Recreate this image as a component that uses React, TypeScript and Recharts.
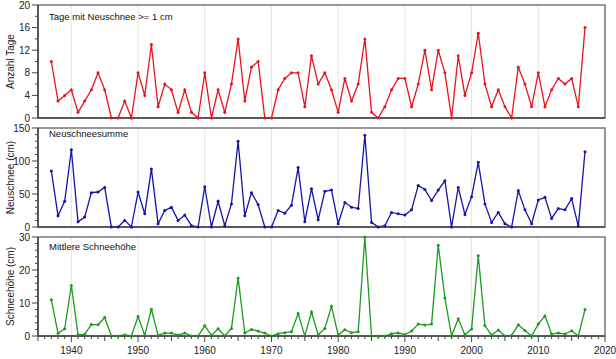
import React from 'react';
import { LineChart, Line, XAxis, YAxis, CartesianGrid, ReferenceArea } from 'recharts';

const years = [
  1937, 1938, 1939, 1940, 1941, 1942, 1943, 1944, 1945, 1946,
  1947, 1948, 1949, 1950, 1951, 1952, 1953, 1954, 1955, 1956,
  1957, 1958, 1959, 1960, 1961, 1962, 1963, 1964, 1965, 1966,
  1967, 1968, 1969, 1970, 1971, 1972, 1973, 1974, 1975, 1976,
  1977, 1978, 1979, 1980, 1981, 1982, 1983, 1984, 1985, 1986,
  1987, 1988, 1989, 1990, 1991, 1992, 1993, 1994, 1995, 1996,
  1997, 1998, 1999, 2000, 2001, 2002, 2003, 2004, 2005, 2006,
  2007, 2008, 2009, 2010, 2011, 2012, 2013, 2014, 2015, 2016,
  2017,
];

// Tage mit Neuschnee >= 1 cm
const tage = [
  10, 3, 4, 5, 1, 3, 5, 8, 5, 0,
  0, 3, 0, 8, 4, 13, 2, 6, 5, 1,
  5, 1, 0, 8, 0, 5, 1, 6, 14, 3,
  9, 10, 0, 0, 5, 7, 8, 8, 2, 11,
  6, 8, 5, 1, 7, 3, 6, 14, 1, 0,
  2, 5, 7, 7, 2, 6, 12, 5, 12, 8,
  0, 11, 4, 8, 15, 6, 2, 5, 2, 0,
  9, 6, 2, 8, 2, 5, 7, 6, 7, 2,
  16,
];

// Neuschneesumme (cm)
const neuschnee = [
  85, 17, 39, 117, 8, 15, 52, 53, 60, 0,
  0, 10, 0, 53, 20, 88, 5, 25, 30, 10,
  18, 2, 0, 61, 0, 39, 2, 35, 130, 17,
  52, 34, 0, 0, 25, 21, 33, 90, 8, 58,
  11, 54, 56, 5, 37, 30, 28, 139, 7, 0,
  2, 22, 20, 18, 26, 63, 57, 40, 56, 70,
  0, 60, 19, 46, 98, 35, 7, 22, 5, 0,
  55, 26, 5, 41, 45, 13, 28, 26, 43, 1,
  114,
];

// Mittlere Schneehöhe (cm)
const hoehe = [
  11, 0.8, 2.2, 15.3, 0.4, 0.5, 3.5, 3.4, 5.6, 0,
  0, 0.3, 0, 5.9, 0.2, 8.1, 0.2, 0.9, 0.9, 0.3,
  0.9, 0, 0, 3.1, 0.2, 2.2, 0, 2.3, 17.6, 0.9,
  2, 1.5, 0.9, 0, 0.7, 1, 1.3, 6.8, 0, 7.3,
  0.3, 2.3, 9, 0.3, 1.9, 1, 1.3, 30, 0, 0,
  0, 0.7, 0.9, 0.4, 1.5, 3.6, 3.3, 3.6, 27.5, 11.5,
  0, 5.2, 0.4, 2.1, 24.3, 3.1, 0.3, 1.8, 0, 0.2,
  3.4, 1.7, 0, 3.6, 6.1, 0.6, 0.9, 0.6, 1.6, 0,
  8,
];

const decades = [1940, 1950, 1960, 1970, 1980, 1990, 2000, 2010, 2020];
const yearTicks = [
  1935, 1936, 1937, 1938, 1939, 1940, 1941, 1942, 1943, 1944,
  1945, 1946, 1947, 1948, 1949, 1950, 1951, 1952, 1953, 1954,
  1955, 1956, 1957, 1958, 1959, 1960, 1961, 1962, 1963, 1964,
  1965, 1966, 1967, 1968, 1969, 1970, 1971, 1972, 1973, 1974,
  1975, 1976, 1977, 1978, 1979, 1980, 1981, 1982, 1983, 1984,
  1985, 1986, 1987, 1988, 1989, 1990, 1991, 1992, 1993, 1994,
  1995, 1996, 1997, 1998, 1999, 2000, 2001, 2002, 2003, 2004,
  2005, 2006, 2007, 2008, 2009, 2010, 2011, 2012, 2013, 2014,
  2015, 2016, 2017, 2018, 2019, 2020,
];

const tageTicks = [0, 2, 4, 6, 8, 10, 12, 14, 16, 18, 20];
const tageMajor = [0, 4, 8, 12, 16, 20];
const neuTicks = [0, 10, 20, 30, 40, 50, 60, 70, 80, 90, 100, 110, 120, 130, 140, 150];
const neuMajor = [0, 50, 100, 150];
const hoeheTicks = [0, 2, 4, 6, 8, 10, 12, 14, 16, 18, 20, 22, 24, 26, 28, 30];
const hoeheMajor = [0, 10, 20, 30];

const data = years.map((year, i) => ({
  year,
  tage: tage[i],
  neuschnee: neuschnee[i],
  hoehe: hoehe[i],
}));

const FONT = '"Liberation Sans", Arial, sans-serif';
const AXIS = '#444';
const W = 616;
const MARGIN_RIGHT = 11;
const Y_W = 38;

const makeYTick = (major: number[]) => (props: any) => {
  const { x, y, payload } = props;
  const ax = x + 8;
  const isMajor = major.includes(payload.value);
  return (
    <g>
      <line x1={ax - (isMajor ? 6 : 3)} x2={ax} y1={y} y2={y} stroke={AXIS} strokeWidth={1} />
      {isMajor && (
        <text x={x} y={y} dy="0.35em" textAnchor="end" fontSize={10} fill="#222" fontFamily={FONT}>
          {payload.value}
        </text>
      )}
    </g>
  );
};

const XTick = (props: any) => {
  const { x, y, payload } = props;
  const ay = y - 10;
  const v = payload.value;
  const len = v % 10 === 0 ? 6 : v % 5 === 0 ? 5 : 3;
  return (
    <g>
      <line x1={x} x2={x} y1={ay} y2={ay + len} stroke={AXIS} strokeWidth={1} />
      {v % 10 === 0 && (
        <text x={x} y={y} dy="0.75em" textAnchor="middle" fontSize={10} fill="#222" fontFamily={FONT}>
          {v}
        </text>
      )}
    </g>
  );
};

// upper panels: no tick marks on the bottom axis
const NoTick = () => <g />;

const yLabel = (text: string) => (props: any) => {
  const vb = props.viewBox;
  const cx = 14;
  const cy = vb.y + vb.height / 2;
  return (
    <text
      x={cx}
      y={cy}
      transform={`rotate(-90 ${cx} ${cy})`}
      textAnchor="middle"
      fontSize={10}
      fill="#222"
      fontFamily={FONT}
    >
      {text}
    </text>
  );
};

const titleStyle: React.CSSProperties = {
  position: 'absolute',
  left: 49,
  fontFamily: FONT,
  fontSize: 9.5,
  color: '#111',
  lineHeight: '12px',
  whiteSpace: 'nowrap',
};

interface PanelProps {
  top: number;
  height: number;
  marginTop: number;
  dataKey: string;
  color: string;
  max: number;
  ticks: number[];
  major: number[];
  label: string;
  bottom?: boolean;
}

function Panel({ top, height, marginTop, dataKey, color, max, ticks, major, label, bottom }: PanelProps) {
  return (
    <div style={{ position: 'absolute', left: 0, top }}>
      <LineChart
        width={W}
        height={height}
        data={data}
        margin={{ top: marginTop, right: MARGIN_RIGHT, left: 0, bottom: bottom ? 0 : 3 }}
      >
        <CartesianGrid vertical horizontal={false} verticalValues={decades} stroke="#e4e4e4" />
        <ReferenceArea x1={1935} x2={2020} y1={0} y2={max} fill="none" stroke="#777" strokeWidth={1.5} />
        <XAxis
          dataKey="year"
          type="number"
          domain={[1935, 2020]}
          ticks={bottom ? yearTicks : decades}
          interval={0}
          tick={bottom ? <XTick /> : <NoTick />}
          tickLine={false}
          tickSize={6}
          tickMargin={4}
          height={bottom ? 23 : 1}
          stroke={AXIS}
          strokeWidth={1.5}
        />
        <YAxis
          type="number"
          domain={[0, max]}
          ticks={ticks}
          interval={0}
          width={Y_W}
          tick={makeYTick(major)}
          tickLine={false}
          tickSize={6}
          tickMargin={2}
          stroke={AXIS}
          strokeWidth={1.5}
          label={{ content: yLabel(label) }}
        />
        <Line
          type="linear"
          dataKey={dataKey}
          stroke={color}
          strokeWidth={1.3}
          dot={{ r: 1.5, fill: color, stroke: color, strokeWidth: 0 }}
          isAnimationActive={false}
        />
      </LineChart>
    </div>
  );
}

export default function App() {
  return (
    <div style={{ position: 'absolute', left: 0, top: 0, width: 616, height: 359, background: '#fff', overflow: 'hidden' }}>
      <Panel top={0} height={122} marginTop={5} dataKey="tage" color="#e8141c" max={20} ticks={tageTicks} major={tageMajor} label="Anzahl Tage" />
      <Panel top={122} height={109} marginTop={6} dataKey="neuschnee" color="#1414a8" max={150} ticks={neuTicks} major={neuMajor} label="Neuschnee (cm)" />
      <Panel top={230} height={129} marginTop={7} dataKey="hoehe" color="#1e9a1e" max={30} ticks={hoeheTicks} major={hoeheMajor} label="Schneehöhe (cm)" bottom />
      <div style={{ ...titleStyle, top: 11 }}>Tage mit Neuschnee &gt;= 1 cm</div>
      <div style={{ ...titleStyle, top: 128 }}>Neuschneesumme</div>
      <div style={{ ...titleStyle, top: 241 }}>Mittlere Schneehöhe</div>
    </div>
  );
}
